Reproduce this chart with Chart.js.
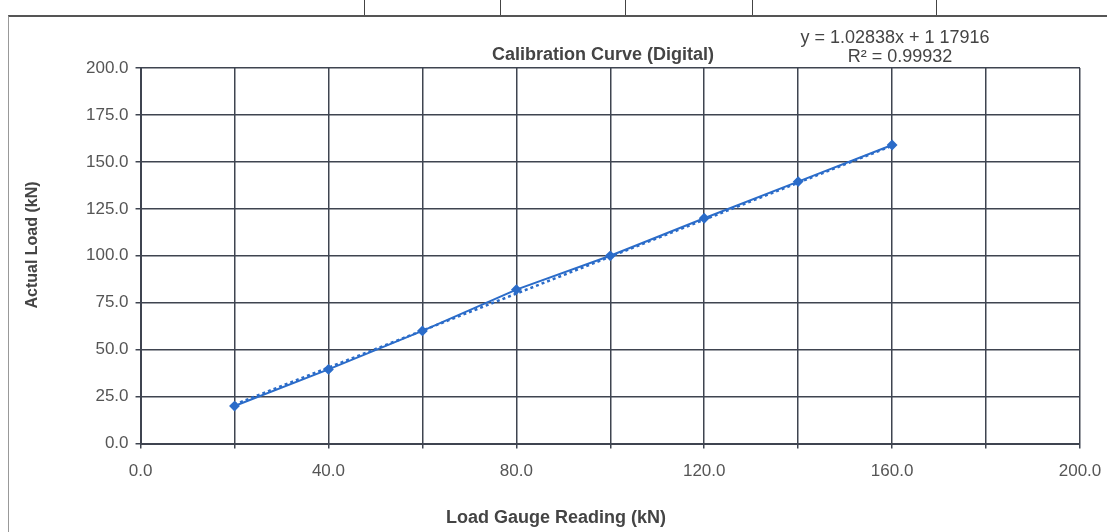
<!DOCTYPE html>
<html>
<head>
<meta charset="utf-8">
<script src="https://cdn.jsdelivr.net/npm/chart.js@4.4.1/dist/chart.umd.min.js"></script>
<style>
  html, body { margin: 0; padding: 0; background: #fff; }
  #wrap { position: relative; width: 1107px; height: 532px; overflow: hidden; }
  #frame { position: absolute; left: 8px; top: 15px; width: 1120px; height: 540px; border-left: 1.5px solid #999; border-top: 2px solid #555; }
  .cell { position: absolute; top: -10px; height: 25px; border-left: 1.5px solid #444; }
  #chartBox { position: absolute; left: 0; top: 0; width: 1107px; height: 532px; }
</style>
</head>
<body>
<div id="wrap">
  <div id="frame"></div>
  <div class="cell" style="left:364px"></div>
  <div class="cell" style="left:500px"></div>
  <div class="cell" style="left:625px"></div>
  <div class="cell" style="left:752px"></div>
  <div class="cell" style="left:936px"></div>
  <div id="chartBox"><canvas id="calChart"></canvas></div>
</div>
<script>
// readings from the picture
var gaugeReading = [20, 40, 60, 80, 100, 120, 140, 160];
var actualLoad = [20.0, 39.5, 60.0, 82.0, 100.0, 120.0, 139.5, 159.0];
var trendX = [20, 160];
var trendY = [20.8, 158.6];
var chartTitle = 'Calibration Curve (Digital)';
var xTitle = 'Load Gauge Reading (kN)';
var yTitle = 'Actual Load (kN)';
var equationLines = ["y = 1.02838x + 1 17916", "R\u00b2 = 0.99932"];

var blue = '#2b6cc9';
var gridColor = '#3f4450';
var tickColor = '#555';
var textColor = '#444';
var fontFam = '"Liberation Sans", Arial, sans-serif';

function toPoints(xs, ys) {
    return xs.map(function(x, i) { return { x: x, y: ys[i] }; });
}

// titles and equation are placed like the Excel chart, not centred on the plot
var labelsPlugin = {
    id: 'excelLabels',
    afterDraw: function(chart) {
        var ctx = chart.ctx;
        ctx.save();
        ctx.fillStyle = textColor;
        ctx.textAlign = 'center';
        ctx.textBaseline = 'middle';

        ctx.font = 'bold 18px ' + fontFam;
        ctx.fillText(chartTitle, 603, 55);

        ctx.font = '18px ' + fontFam;
        ctx.fillText(equationLines[0], 895, 38);
        ctx.fillText(equationLines[1], 900, 57);

        ctx.font = 'bold 18px ' + fontFam;
        ctx.fillText(xTitle, 556, 518);

        ctx.translate(33, 245);
        ctx.rotate(-Math.PI / 2);
        ctx.font = 'bold 16px ' + fontFam;
        ctx.fillText(yTitle, 0, 0);
        ctx.restore();
    }
};

var ctx = document.getElementById('calChart').getContext('2d');
var calChart = new Chart(ctx, {
    type: 'scatter',
    data: {
        datasets: [{
            label: 'Actual Load',
            data: toPoints(gaugeReading, actualLoad),
            showLine: true,
            borderColor: blue,
            backgroundColor: blue,
            borderWidth: 2,
            pointStyle: 'rectRot',
            pointRadius: 4,
            tension: 0
        }, {
            label: 'Linear trend',
            data: toPoints(trendX, trendY),
            showLine: true,
            borderColor: blue,
            borderWidth: 2.5,
            borderDash: [3, 3],
            pointRadius: 0
        }]
    },
    options: {
        responsive: true,
        maintainAspectRatio: false,
        animation: false,
        layout: { padding: { left: 79, right: 27, top: 68, bottom: 37 } },
        plugins: {
            legend: { display: false },
            tooltip: { enabled: false },
            title: { display: false }
        },
        scales: {
            x: {
                type: 'linear',
                min: 0,
                max: 200,
                // let the last label hang past the plot like in Excel
                afterFit: function(scale) { scale.paddingRight = 0; },
                ticks: {
                    stepSize: 20,
                    autoSkip: false,
                    maxRotation: 0,
                    color: tickColor,
                    padding: 13,
                    font: { family: fontFam, size: 17 },
                    callback: function(v) { return v % 40 === 0 ? v.toFixed(1) : ''; }
                },
                grid: { color: gridColor, lineWidth: 1.5, tickLength: 5 },
                border: { color: gridColor, width: 2 }
            },
            y: {
                min: 0,
                max: 200,
                ticks: {
                    stepSize: 25,
                    color: tickColor,
                    padding: 7,
                    font: { family: fontFam, size: 17 },
                    callback: function(v) { return v.toFixed(1); }
                },
                grid: { color: gridColor, lineWidth: 1.5, tickLength: 5 },
                border: { color: gridColor, width: 2 }
            }
        }
    },
    plugins: [labelsPlugin]
});
</script>
</body>
</html>
